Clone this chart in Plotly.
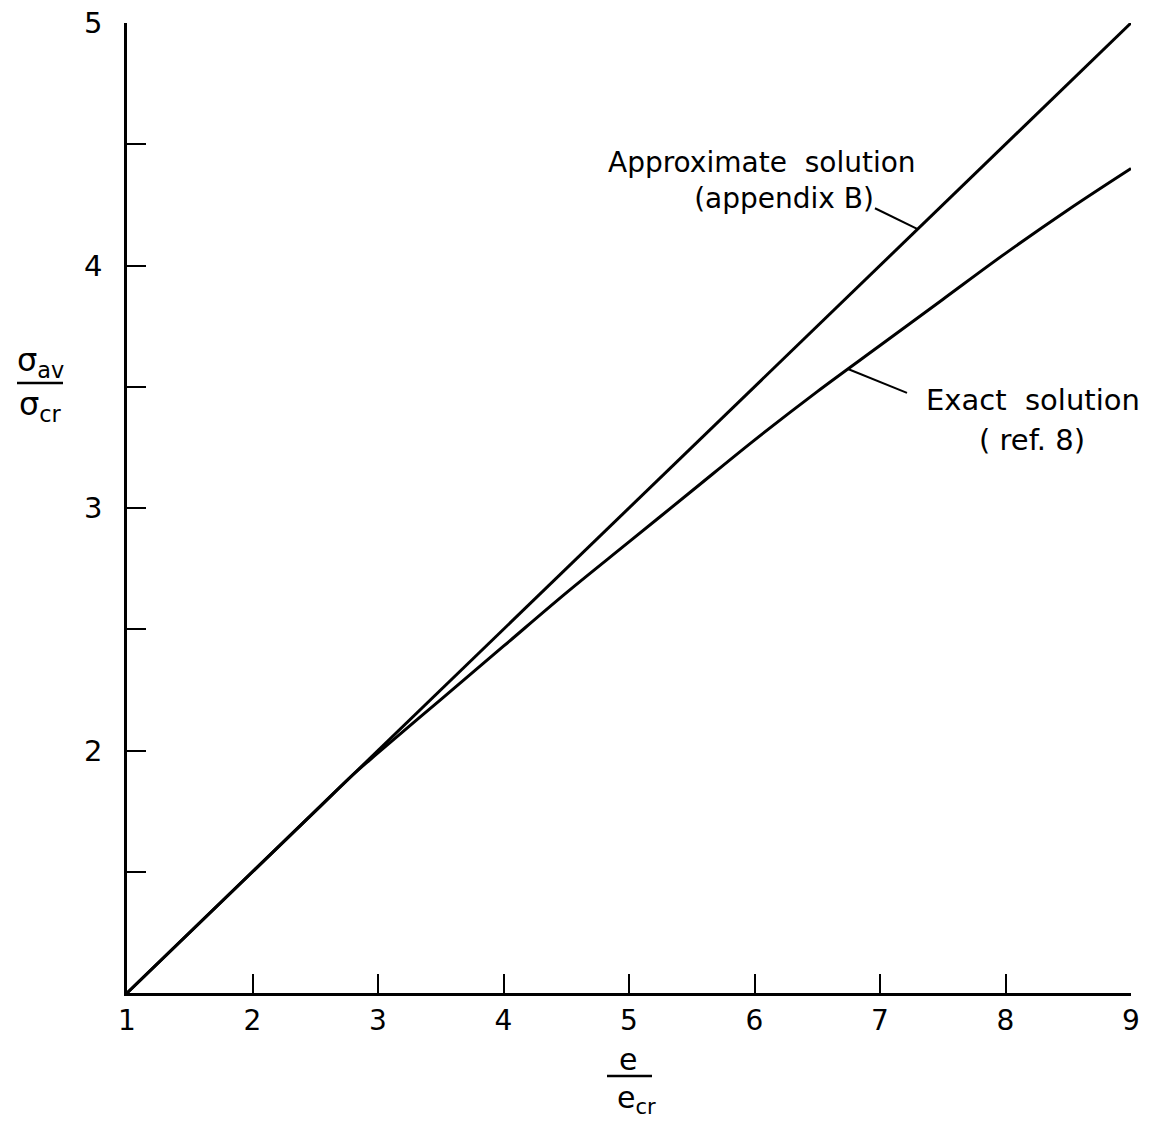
import numpy as np
import plotly.graph_objects as go

# Data
x_exact = [1, 2, 2.5, 2.8, 3, 3.5, 4, 4.5, 5, 5.5, 6, 6.5, 7, 7.5, 8, 8.5, 9]
y_exact = [1, 1.5, 1.75, 1.9, 1.99, 2.21, 2.43, 2.65, 2.86, 3.07, 3.28, 3.48, 3.67, 3.86, 4.05, 4.23, 4.40]
x_approx = [1, 2, 3, 4, 5, 6, 7, 8, 9]
y_approx = [1, 1.5, 2, 2.5, 3, 3.5, 4, 4.5, 5]

x_ticks = [1, 2, 3, 4, 5, 6, 7, 8, 9]
x_ticktext = ["1", "2", "3", "4", "5", "6", "7", "8", "9"]
y_ticks = [2, 3, 4, 5]
y_ticktext = ["2", "3", "4", "5"]
y_minor_ticks = [1.5, 2.5, 3.5, 4.5]

FONT = "DejaVu Sans"
W, H = 1151, 1123
L, R, T, B = 127, 20, 23, 130
PW = W - L - R
PH = H - T - B


def px(xp):
    return (xp - L) / PW


def py(yp):
    return (H - B - yp) / PH


fig = go.Figure()
fig.add_trace(go.Scatter(x=x_approx, y=y_approx, mode="lines",
                         line=dict(color="black", width=3), showlegend=False))
fig.add_trace(go.Scatter(x=x_exact, y=y_exact, mode="lines", line_shape="spline",
                         line=dict(color="black", width=3), showlegend=False))

# leader lines
ax_pt = 7.30
ay_pt = float(np.interp(ax_pt, x_approx, y_approx))
ex_pt = 6.745
ey_pt = float(np.interp(ex_pt, x_exact, y_exact))
fig.add_shape(type="line", x0=6.96, y0=4.236, x1=ax_pt, y1=ay_pt,
              line=dict(color="black", width=2))
fig.add_shape(type="line", x0=7.215, y0=3.475, x1=ex_pt, y1=ey_pt,
              line=dict(color="black", width=2))


def note(xp, yp, text, size):
    fig.add_annotation(x=px(xp), y=py(yp), xref="paper", yref="paper",
                       xanchor="center", yanchor="middle", text=text,
                       showarrow=False,
                       font=dict(family=FONT, size=size, color="black"))


note(762, 181, "Approximate  solution<br>" + "\u00a0" * 5 + "(appendix B)", 28)
note(1033, 400, "Exact  solution", 29)
note(1032, 440, "( ref. 8)", 29)

# axis titles as fractions
note(40, 362, "σ<sub>av</sub>", 32)
fig.add_shape(type="line", xref="paper", yref="paper",
              x0=px(17), x1=px(63), y0=py(383), y1=py(383),
              line=dict(color="black", width=2.5))
note(40, 406, "σ<sub>cr</sub>", 32)

note(628, 1059, "e", 30)
fig.add_shape(type="line", xref="paper", yref="paper",
              x0=px(607), x1=px(652), y0=py(1076), y1=py(1076),
              line=dict(color="black", width=2.5))
note(636, 1099, "e<sub>cr</sub>", 30)

fig.update_layout(
    width=W, height=H,
    margin=dict(l=L, r=R, t=T, b=B, autoexpand=False),
    plot_bgcolor="white", paper_bgcolor="white",
    font=dict(family=FONT, size=28, color="black"),
)
fig.update_xaxes(range=[1, 9], showgrid=False, zeroline=False, automargin=False,
                 showline=True, linecolor="black", linewidth=2.5,
                 ticks="inside", ticklen=19, tickwidth=2, tickcolor="black",
                 tickvals=x_ticks, ticktext=x_ticktext, ticklabelstandoff=1,
                 tickfont=dict(family=FONT, size=28))
fig.update_yaxes(range=[1, 5], showgrid=False, zeroline=False, automargin=False,
                 showline=True, linecolor="black", linewidth=2.5,
                 ticks="inside", ticklen=19, tickwidth=2, tickcolor="black",
                 tickvals=y_ticks, ticktext=y_ticktext, ticklabelstandoff=16,
                 tickfont=dict(family=FONT, size=29),
                 minor=dict(tickvals=y_minor_ticks, ticks="inside", ticklen=19,
                            tickwidth=2, tickcolor="black", showgrid=False))

fig.write_html("out.html", config={"displayModeBar": False},
               post_script="document.body.style.margin='0';")
